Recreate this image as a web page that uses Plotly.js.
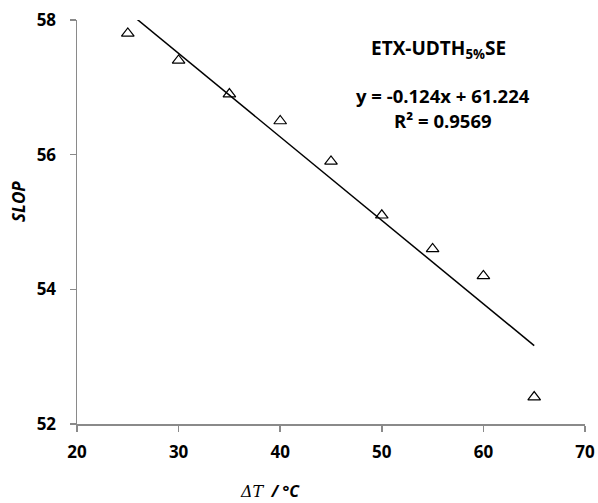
<!DOCTYPE html>
<html>
<head>
<meta charset="utf-8">
<script src="https://cdn.plot.ly/plotly-3.0.1.min.js"></script>
<style>
  html, body { margin: 0; padding: 0; background: #fff; }
  #chart { width: 598px; height: 503px; }
</style>
</head>
<body>
<div id="chart"></div>
<script>
// Temperature difference (°C) and measured SLOP values
const deltaT = [25, 30, 35, 40, 45, 50, 55, 60, 65];
const slop = [57.8, 57.4, 56.9, 56.5, 55.9, 55.1, 54.6, 54.2, 52.4];

// Linear fit reported on the chart
const fitSlope = -0.124;
const fitIntercept = 61.224;
const fitR2 = 0.9569;

const xTicks = [20, 30, 40, 50, 60, 70];
const yTicks = [52, 54, 56, 58];

const fitX = [deltaT[0], deltaT[deltaT.length - 1]];
const fitY = fitX.map(x => fitSlope * x + fitIntercept);

const axisGray = '#8a8a8a';
const tickFont = { family: 'Open Sans, sans-serif', size: 17, color: '#000' };
const bold = v => '<b>' + v + '</b>';

const traces = [
  {
    x: fitX, y: fitY, type: 'scatter', mode: 'lines',
    line: { color: '#000', width: 1.5 },
    hoverinfo: 'skip', showlegend: false
  },
  {
    x: deltaT, y: slop, type: 'scatter', mode: 'markers',
    marker: { symbol: 'triangle-up-open', size: 11, color: '#000', line: { color: '#000', width: 1.2 } },
    showlegend: false
  }
];

const layout = {
  width: 598, height: 503,
  margin: { l: 77, r: 13, t: 20, b: 79 },
  paper_bgcolor: '#fff', plot_bgcolor: '#fff',
  showlegend: false,
  xaxis: {
    range: [20, 70], tickvals: xTicks, ticktext: xTicks.map(bold),
    showline: true, linecolor: axisGray, linewidth: 1.5,
    ticks: 'outside', ticklen: 6, tickwidth: 1.5, tickcolor: axisGray,
    ticklabelstandoff: 6,
    showgrid: false, zeroline: false, tickfont: tickFont
  },
  yaxis: {
    range: [52, 58], tickvals: yTicks, ticktext: yTicks.map(bold),
    showline: true, linecolor: axisGray, linewidth: 1.5,
    ticks: 'outside', ticklen: 6, tickwidth: 1.5, tickcolor: axisGray,
    ticklabelstandoff: 10,
    showgrid: false, zeroline: false, tickfont: tickFont
  },
  annotations: [
    {
      xref: 'paper', yref: 'paper', x: 0.711, y: 0.928, xanchor: 'center', yanchor: 'middle',
      showarrow: false, text: '<b>ETX-UDTH<sub>5%</sub>SE</b>',
      font: { family: 'Open Sans, sans-serif', size: 19, color: '#000' }
    },
    {
      xref: 'paper', yref: 'paper', x: 0.72, y: 0.812, xanchor: 'center', yanchor: 'middle',
      showarrow: false,
      text: '<b>y = ' + fitSlope.toFixed(3) + 'x + ' + fitIntercept.toFixed(3) + '</b>',
      font: { family: 'Open Sans, sans-serif', size: 18.5, color: '#000' }
    },
    {
      xref: 'paper', yref: 'paper', x: 0.72, y: 0.752, xanchor: 'center', yanchor: 'middle',
      showarrow: false, text: '<b>R² = ' + fitR2.toFixed(4) + '</b>',
      font: { family: 'Open Sans, sans-serif', size: 18.5, color: '#000' }
    },
    {
      xref: 'paper', yref: 'paper', x: -0.114, y: 0.55, xanchor: 'center', yanchor: 'middle',
      showarrow: false, textangle: -90,
      text: '<b><i>SLOP</i></b>',
      font: { family: 'Open Sans, sans-serif', size: 17, color: '#000' }
    },
    {
      xref: 'paper', yref: 'paper', x: 0.38, y: -0.166, xanchor: 'center', yanchor: 'middle',
      showarrow: false,
      text: '<span style="font-family:DejaVu Serif,serif"><i>ΔT</i></span>  <b><i>/ °C</i></b>',
      font: { family: 'Open Sans, sans-serif', size: 16, color: '#000' }
    }
  ]
};

Plotly.newPlot('chart', traces, layout, { displayModeBar: false, staticPlot: true });
</script>
</body>
</html>
